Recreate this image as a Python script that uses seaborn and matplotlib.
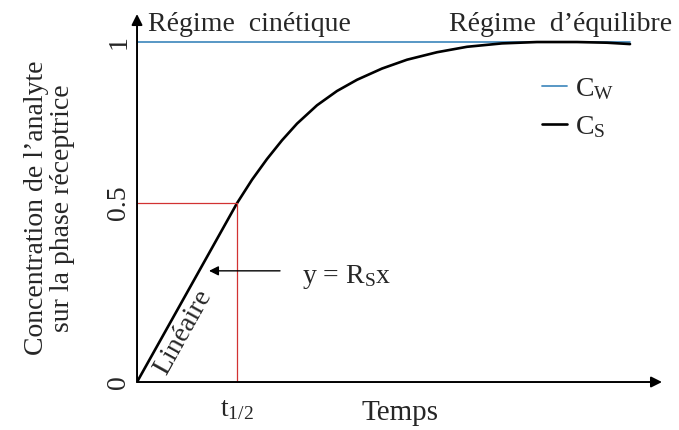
import numpy as np
import pandas as pd
import matplotlib.pyplot as plt
import seaborn as sns

# Values (time in units of t1/2, concentration 0..1)
temps = [0, 0.5, 1.0, 1.15, 1.30, 1.45, 1.60, 1.80, 2.00, 2.20, 2.45, 2.70, 3.00, 3.30, 3.65, 4.00, 4.40, 4.70, 4.93]
c_s = [0, 0.263, 0.526, 0.595, 0.656, 0.711, 0.760, 0.814, 0.856, 0.889, 0.922, 0.948, 0.970, 0.986, 0.996, 1.0, 1.0, 0.998, 0.994]
c_w_temps = [0, 4.93]
c_w = [1.0, 1.0]
t_half = 1.0
half_level = 0.526
ytick_pos = [0, half_level, 1]
ytick_labels = ["0", "0.5", "1"]

sns.set_style("white")
plt.rcParams['font.family'] = ['Liberation Serif', 'DejaVu Serif']
plt.rcParams['mathtext.fontset'] = 'custom'
plt.rcParams['mathtext.rm'] = 'Liberation Serif'
plt.rcParams['mathtext.it'] = 'Liberation Serif'

fig = plt.figure(figsize=(6.79, 4.30), dpi=100)
ax = fig.add_axes([0.2018, 0.1116, 0.7732, 0.8558])

df_s = pd.DataFrame({"t": temps, "c": c_s})
df_w = pd.DataFrame({"t": c_w_temps, "c": c_w})

sns.lineplot(data=df_w, x="t", y="c", ax=ax, color="#4a8fc0", lw=1.3, label="C$_\\mathrm{W}$")
sns.lineplot(data=df_s, x="t", y="c", ax=ax, color="black", lw=1.9, label="C$_\\mathrm{S}$",
             solid_joinstyle='round')

# half-time guides
ax.plot([t_half, t_half], [0, half_level], color="#d23232", lw=0.9)
ax.plot([0, t_half], [half_level, half_level], color="#d23232", lw=0.9)

ax.set_xlim(0, 5.25)
ax.set_ylim(0, 1.0824)
for s in ax.spines.values():
    s.set_visible(False)

# arrow axes
ax.annotate('', xy=(1, 0), xytext=(0, 0), xycoords='axes fraction',
            arrowprops=dict(arrowstyle='-|>', color='black', lw=1.4, mutation_scale=16, shrinkA=0, shrinkB=0))
ax.annotate('', xy=(0, 1), xytext=(0, 0), xycoords='axes fraction',
            arrowprops=dict(arrowstyle='-|>', color='black', lw=1.4, mutation_scale=16, shrinkA=0, shrinkB=0))

ax.set_yticks(ytick_pos)
ax.set_yticklabels(ytick_labels, rotation=90, va='center', fontsize=20)
ax.set_xticks([t_half])
ax.set_xticklabels(["t$_{1/2}$"], fontsize=20)
ax.tick_params(axis='both', length=0)
ax.tick_params(axis='y', pad=4)
ax.tick_params(axis='x', pad=11)

ax.set_xlabel("Temps", fontsize=21)
ax.xaxis.set_label_coords(0.50, -0.05)
ax.xaxis.label.set_va('top')
ax.set_ylabel("Concentration de l\u2019analyte\nsur la phase réceptrice", fontsize=20, linespacing=1.05)
ax.yaxis.set_label_coords(-0.118, 0.473)

ax.text(0.11, 1.052, "Régime  cinétique", fontsize=20, ha='left', va='center')
ax.text(5.35, 1.052, "Régime  d\u2019équilibre", fontsize=20, ha='right', va='center')
ax.text(0.46, 0.145, "Linéaire", fontsize=20, rotation=60.8, ha='center', va='center')
ax.annotate('', xy=(0.72, 0.327), xytext=(1.43, 0.327),
            arrowprops=dict(arrowstyle='-|>', color='black', lw=1.0, mutation_scale=14, shrinkA=0, shrinkB=0))
ax.text(2.10, 0.31, "y = R$_\\mathrm{S}$x", fontsize=20, ha='center', va='center')

leg = ax.legend(loc='upper left', bbox_to_anchor=(0.745, 0.87), frameon=False, fontsize=20,
                handlelength=0.9, handletextpad=0.3, labelspacing=0.45, borderpad=0)

fig.savefig("out.png", dpi=100)
